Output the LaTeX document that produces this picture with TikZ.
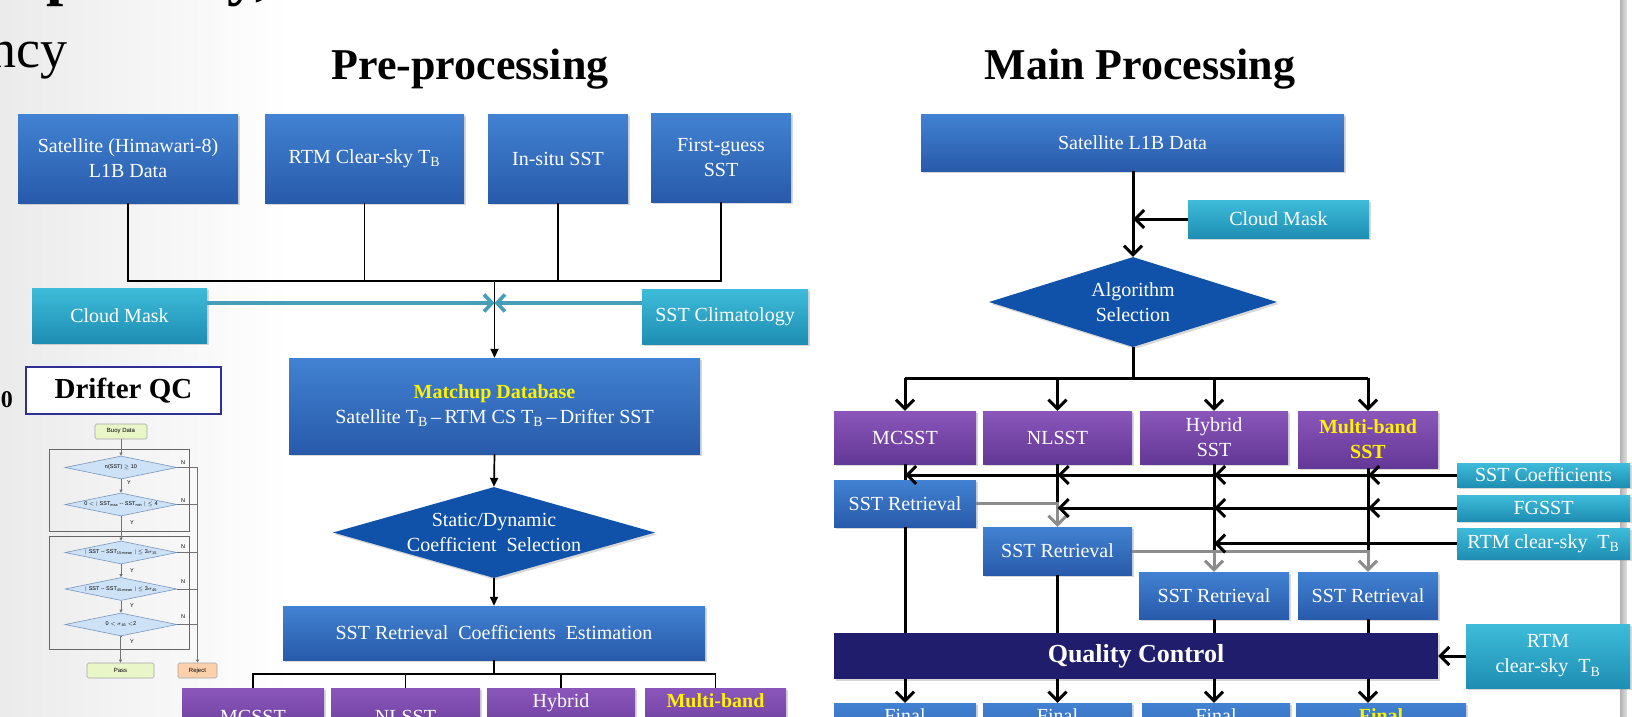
\documentclass[tikz,border=0pt]{standalone}
\usepackage{fontspec}
\setmainfont{Liberation Serif}
\newfontfamily\qcfont{Liberation Sans}
\usetikzlibrary{arrows.meta,shapes.geometric,shadows}
\newcommand{\TBsub}{T\textsubscript{B}}
\definecolor{bluetop}{RGB}{66,130,210}
\definecolor{bluebot}{RGB}{40,90,170}
\definecolor{tealtop}{RGB}{62,188,218}
\definecolor{tealbot}{RGB}{30,142,178}
\definecolor{purptop}{RGB}{138,86,186}
\definecolor{purpbot}{RGB}{100,56,150}
\definecolor{diamblue}{RGB}{16,82,170}
\definecolor{qcnavy}{RGB}{32,30,108}
\definecolor{tealline}{RGB}{70,158,184}
\definecolor{hiyellow}{RGB}{255,242,0}
\definecolor{qcborder}{RGB}{46,49,146}
\definecolor{flowblue}{RGB}{205,226,246}
\definecolor{flowedge}{RGB}{120,150,190}
\definecolor{passgreen}{RGB}{232,246,200}
\definecolor{rejorange}{RGB}{252,208,170}
\begin{document}
\begin{tikzpicture}[x=1pt,y=-1pt,
  every node/.style={font=\fontsize{20}{25}\selectfont},
  sz/.style 2 args={minimum width=#1pt, minimum height=#2pt},
  base/.style={rectangle, inner sep=0pt, align=center, text=white,
    drop shadow={shadow xshift=2pt, shadow yshift=-2pt, opacity=0.3}},
  bluebox/.style={base, top color=bluetop, bottom color=bluebot},
  tealbox/.style={base, top color=tealtop, bottom color=tealbot},
  purpbox/.style={base, top color=purptop, bottom color=purpbot},
  qcbox/.style={base, fill=qcnavy},
  diam/.style={diamond, inner sep=0pt, fill=diamblue,
    drop shadow={shadow xshift=2pt, shadow yshift=-2pt, opacity=0.3}},
  pline/.style={line width=1.7pt, black},
  parr/.style={pline, -{Triangle[length=9pt,width=8pt]}},
  tarr/.style={line width=3.6pt, tealline, -{Straight Barb[length=8pt,width=17pt]}},
  mline/.style={line width=3pt, black},
  marr/.style={mline, -{Straight Barb[length=9pt,width=18pt]}},
  garr/.style={line width=3pt, black!45, -{Straight Barb[length=9pt,width=18pt]}},
  fl/.style={draw=black!55, line width=0.8pt},
  flarr/.style={fl, -{Triangle[length=3pt,width=3pt]}},
  fldiam/.style={diamond, inner sep=0pt, fill=flowblue, draw=flowedge, line width=0.6pt, minimum width=112pt, minimum height=23pt},
  flbox/.style={rectangle, rounded corners=1.5pt, inner sep=0pt, line width=0.6pt, minimum height=15pt, font=\qcfont\fontsize{6}{7}\selectfont},
  fltxt/.style={font=\qcfont\fontsize{5.5}{6}\selectfont},
  yn/.style={font=\qcfont\fontsize{5.5}{6}\selectfont, inner sep=0pt}
]
\clip (0,0) rectangle (1632,717);
\useasboundingbox (0,0) rectangle (1632,717);
\fill[white] (0,0) rectangle (1632,717);
\shade[left color=black!8, right color=white] (0,0) rectangle (290,717);
\shade[left color=black!30, right color=black!12] (1620,0) rectangle (1627,717);

% ---- partial heading text at top left
\node[font=\fontsize{62}{70}\selectfont\bfseries, anchor=base west, inner sep=0pt] (toptxt) at (-108,-6) {Transparency,};
\node[font=\fontsize{54}{60}\selectfont, anchor=base east, inner sep=0pt] (ncy) at (68,67) {ncy};

% ---- titles
\node[font=\fontsize{44}{50}\selectfont\bfseries, anchor=base] (t1) at (470,79) {Pre-processing};
\node[font=\fontsize{44}{50}\selectfont\bfseries, anchor=base] (t2) at (1140,79) {Main Processing};

% ================= PRE-PROCESSING
\node[bluebox, sz={220}{89}] (b1) at (128,158.5) {Satellite (Himawari-8)\\L1B Data};
\node[bluebox, sz={199}{89}] (b2) at (364.5,158.5) {RTM Clear-sky \TBsub};
\node[bluebox, sz={140}{89}] (b3) at (558,158.5) {In-situ SST};
\node[bluebox, sz={140}{89}] (b4) at (721,157.5) {First-guess\\SST};

\coordinate (hj) at (494.5,281);
\draw[pline] (b1.south) -- (b1.south |- hj) -- (b4.south |- hj) -- (b4.south);
\draw[pline] (b2.south) -- (b2.south |- hj);
\draw[pline] (b3.south) -- (b3.south |- hj);

\node[tealbox, sz={175}{55}] (cm1) at (119.5,315.5) {Cloud Mask};
\node[tealbox, sz={166}{55}] (clim) at (725,316.5) {SST Climatology};

\node[bluebox, sz={411}{96}] (mdb) at (494.5,406)
  {{\color{hiyellow}\bfseries Matchup Database}\\Satellite \TBsub\,--\,RTM CS \TBsub\,--\,Drifter SST};

\coordinate (tj) at (494.5,303);
\draw[parr] (hj) -- (mdb.north);
\draw[tarr] (cm1.east |- tj) -- (tj);
\draw[tarr] (clim.west |- tj) -- (tj);

\node[diam, sz={322}{91}, label={[text=white, align=center]center:{Static/Dynamic\\Coefficient\ \ Selection}}] (dia) at (494,532.5) {};
\draw[parr] (mdb.south) -- (dia.north);

\node[bluebox, sz={422}{54}] (est) at (494,633) {SST Retrieval\ \ Coefficients\ \ Estimation};
\draw[parr] (dia.south) -- (est.north);

\node[purpbox, sz={142}{57}] (p1) at (253,716.5) {MCSST};
\node[purpbox, sz={149}{57}] (p2) at (405.5,716.5) {NLSST};
\node[purpbox, sz={148}{57}] (p3) at (561,716.5) {Hybrid\\\strut};
\node[purpbox, sz={141}{57}, text=hiyellow, font=\fontsize{20}{25}\selectfont\bfseries] (p4) at (715.5,716.5) {Multi-band\\\strut};

\coordinate (hb) at (494,674);
\draw[pline] (est.south) -- (hb);
\draw[pline] (p1.north) -- (p1.north |- hb) -- (p4.north |- hb) -- (p4.north);
\draw[pline] (p2.north) -- (p2.north |- hb);
\draw[pline] (p3.north) -- (p3.north |- hb);

% ================= DRIFTER QC
\node[draw=qcborder, fill=white, line width=2.5pt, sz={195}{47}, inner sep=0pt,
      font=\fontsize{29}{32}\selectfont\bfseries] (dqc) at (123.5,390.5) {Drifter QC};
\node[font=\fontsize{24}{28}\selectfont\bfseries, anchor=east, inner sep=0pt] (zero) at (13,400) {0};

\draw[draw=black!60, line width=1pt] (49,449) rectangle (189,531);
\draw[draw=black!60, line width=1pt] (49,536) rectangle (189,649);

\node[flbox, fill=passgreen, draw=black!35, minimum width=52pt] (buoy) at (121,431.5) {Buoy Data};
\node[fldiam, label={[fltxt]center:{n(SST) $\geq$ 10}}] (d1) at (121,467.5) {};
\node[fldiam, label={[fltxt]center:{0 $<$ $|$ SST\textsubscript{max} -- SST\textsubscript{min} $|$ $\leq$ 4}}] (d2) at (121,504.5) {};
\node[fldiam, label={[fltxt]center:{$|$ SST -- SST\textsubscript{15-mean} $|$ $\leq$ 3$\sigma$\textsubscript{15}}}] (d3) at (121,552.5) {};
\node[fldiam, label={[fltxt]center:{$|$ SST -- SST\textsubscript{45-mean} $|$ $\leq$ 3$\sigma$\textsubscript{45}}}] (d4) at (121,589) {};
\node[fldiam, label={[fltxt]center:{0 $<$ $\sigma$\textsubscript{45} $<$2}}] (d5) at (121,624.5) {};
\node[flbox, fill=passgreen, draw=black!35, minimum width=67pt] (pass) at (120.5,670.5) {Pass};
\node[flbox, fill=rejorange, draw=black!35, minimum width=39pt] (rej) at (197.5,670.5) {Reject};

\draw[flarr] (buoy.south) -- (d1.north);
\draw[flarr] (d1.south) -- (d2.north);
\draw[flarr] (d2.south) -- (d3.north);
\draw[flarr] (d3.south) -- (d4.north);
\draw[flarr] (d4.south) -- (d5.north);
\draw[flarr] (d5.south) -- (d5.south -| pass.north) -- (pass.north);
\draw[flarr] (d1.east) -- (d1.east -| rej.north) -- (rej.north);
\draw[fl] (d2.east) -- (d2.east -| rej.north);
\draw[fl] (d3.east) -- (d3.east -| rej.north);
\draw[fl] (d4.east) -- (d4.east -| rej.north);
\draw[fl] (d5.east) -- (d5.east -| rej.north);

\node[yn] (y1) at (129,483) {Y};
\node[yn] (y2) at (132,523) {Y};
\node[yn] (y3) at (132,571) {Y};
\node[yn] (y4) at (132,606) {Y};
\node[yn] (y5) at (132,642) {Y};
\node[yn] (n1) at (183,463) {N};
\node[yn] (n2) at (183,501) {N};
\node[yn] (n3) at (183,547) {N};
\node[yn] (n4) at (183,582) {N};
\node[yn] (n5) at (183,617) {N};

% ================= MAIN PROCESSING
\node[bluebox, sz={423}{57}] (sat) at (1132.5,142.5) {Satellite L1B Data};
\node[tealbox, sz={181}{38}] (cm2) at (1278.5,219) {Cloud Mask};
\node[diam, sz={288}{90}, label={[text=white, align=center]center:{Algorithm\\Selection}}] (alg) at (1133,302) {};
\draw[marr] (sat.south -| alg.north) -- (alg.north);
\draw[marr] (cm2.west) -- (cm2.west -| alg.north);

\node[purpbox, sz={142}{53}] (m1) at (905,437.5) {MCSST};
\node[purpbox, sz={149}{53}] (m2) at (1057.5,437.5) {NLSST};
\node[purpbox, sz={148}{53}] (m3) at (1214,437.5) {Hybrid\\SST};
\node[purpbox, sz={140}{57}, text=hiyellow, font=\fontsize{20}{25}\selectfont\bfseries] (m4) at (1368,439.5) {Multi-band\\SST};

\coordinate (mj) at (1133,378);
\draw[mline] (alg.south) -- (mj);
\draw[mline] (m1.north |- mj) -- (m4.north |- mj);
\draw[marr] (m1.north |- mj) -- (m1.north);
\draw[marr] (m2.north |- mj) -- (m2.north);
\draw[marr] (m3.north |- mj) -- (m3.north);
\draw[marr] (m4.north |- mj) -- (m4.north);

\node[bluebox, sz={142}{47}] (sr1) at (905,503.5) {SST Retrieval};
\node[bluebox, sz={149}{48}] (sr2) at (1057.5,551) {SST Retrieval};
\node[bluebox, sz={150}{47}] (sr3) at (1214,595.5) {SST Retrieval};
\node[bluebox, sz={140}{47}] (sr4) at (1368,595.5) {SST Retrieval};

\node[qcbox, sz={604}{46}, font=\fontsize{26}{30}\selectfont\bfseries] (qc) at (1136,656) {Quality Control};

\node[tealbox, sz={173}{24}] (coef) at (1543.5,475) {SST Coefficients};
\node[tealbox, sz={173}{26}] (fg) at (1543.5,508) {FGSST};
\node[tealbox, sz={173}{31}] (rtm1) at (1543.5,543.5) {RTM clear-sky\ \ \TBsub};
\node[tealbox, sz={164}{64}] (rtm2) at (1548,656) {RTM\\clear-sky\ \ \TBsub};

% column lines
\draw[mline] (m1.south) -- (sr1.north);
\draw[mline] (sr1.south) -- (sr1.south |- qc.north);
\draw[mline] (m2.south) -- (m2.south |- sr1.east);
\draw[mline] (m3.south) -- (m3.south |- sr2.east);
\draw[mline] (m4.south) -- (m4.south |- sr2.east);
\draw[mline] (sr2.south) -- (sr2.south |- qc.north);
\draw[mline] (sr3.south) -- (sr3.south |- qc.north);
\draw[mline] (sr4.south) -- (sr4.south |- qc.north);

% gray flow between retrievals
\draw[garr] (sr1.east) -| (sr2.north);
\draw[garr] (sr2.east) -| (sr4.north);
\draw[garr] (sr2.east -| sr3.north) -- (sr3.north);

% auxiliary inputs
\draw[marr] (coef.west) -- (coef.west -| m4.south);
\draw[marr] (coef.west -| m4.south) -- (coef.west -| m3.south);
\draw[marr] (coef.west -| m3.south) -- (coef.west -| m2.south);
\draw[marr] (coef.west -| m2.south) -- (coef.west -| m1.south);
\draw[marr] (fg.west) -- (fg.west -| m4.south);
\draw[marr] (fg.west -| m4.south) -- (fg.west -| m3.south);
\draw[marr] (fg.west -| m3.south) -- (fg.west -| m2.south);
\draw[marr] (rtm1.west) -- (rtm1.west -| m3.south);
\draw[marr] (rtm2.west) -- (qc.east);

% final products
\node[bluebox, sz={142}{57}] (f1) at (905,731.5) {Final\\\strut};
\node[bluebox, sz={149}{57}] (f2) at (1057.5,731.5) {Final\\\strut};
\node[bluebox, sz={148}{57}] (f3) at (1216,731.5) {Final\\\strut};
\node[bluebox, sz={170}{57}, text=hiyellow, font=\fontsize{20}{25}\selectfont\bfseries] (f4) at (1381,731.5) {Final\\\strut};
\draw[marr] (qc.south -| m1.south) -- (f1.north -| m1.south);
\draw[marr] (qc.south -| m2.south) -- (f2.north -| m2.south);
\draw[marr] (qc.south -| m3.south) -- (f3.north -| m3.south);
\draw[marr] (qc.south -| m4.south) -- (f4.north -| m4.south);
\end{tikzpicture}
\end{document}
